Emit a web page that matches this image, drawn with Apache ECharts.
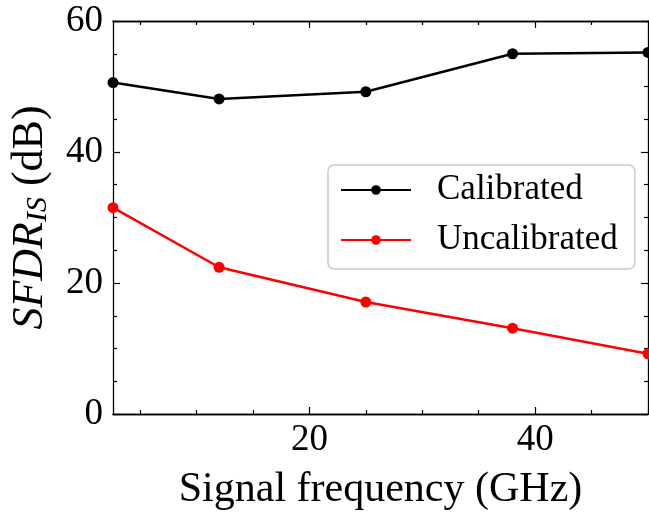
<!DOCTYPE html>
<html>
<head>
<meta charset="utf-8">
<script src="https://cdn.jsdelivr.net/npm/echarts@6/dist/echarts.min.js"></script>
<style>
  html, body { margin: 0; padding: 0; background: #fff; }
  #chartWrapper { width: 649px; height: 512px; }
</style>
</head>
<body>
<div id="chartWrapper"></div>
<script>
// signal frequency (GHz)
let freq = [2.6, 12, 25, 38, 50];
let calibrated = [50.6, 48.1, 49.2, 55.0, 55.2];
let uncalibrated = [31.5, 22.4, 17.1, 13.1, 9.2];
let xMajorTicks = [20, 40];
let xMinorTicks = [5, 10, 15, 25, 30, 35, 45, 50];

let myChart = echarts.init(document.getElementById('chartWrapper'));
let serif = 'Liberation Serif';

function pairs(ys) {
    return freq.map(function (x, i) { return [x, ys[i]]; });
}

// x axes: bottom major / bottom minor / top major / top minor
function xAxisItem(pos, ticks, len, showLabel) {
    return {
        type: 'value',
        position: pos,
        min: 2.6,
        max: 50,
        axisLine: { show: true, onZero: false, lineStyle: { color: '#000', width: 1.3 } },
        axisTick: { show: true, inside: true, length: len, customValues: ticks, lineStyle: { color: '#000', width: 1.2 } },
        axisLabel: { show: showLabel, customValues: ticks, color: '#000', fontFamily: serif, fontSize: 37, margin: 8 },
        splitLine: { show: false }
    };
}

function yAxisItem(pos, showLabel) {
    return {
        type: 'value',
        position: pos,
        min: 0,
        max: 60,
        interval: 20,
        axisLine: { show: true, lineStyle: { color: '#000', width: 1.3 } },
        axisTick: { show: true, inside: true, length: 7, lineStyle: { color: '#000', width: 1.2 } },
        minorTick: { show: true, splitNumber: 4, length: 4, lineStyle: { color: '#000', width: 1.2 } },
        axisLabel: { show: showLabel, color: '#000', fontFamily: serif, fontSize: 37, margin: 10 },
        splitLine: { show: false },
        minorSplitLine: { show: false }
    };
}

let xAxes = [
    xAxisItem('bottom', xMajorTicks, 7, true),
    xAxisItem('bottom', xMinorTicks, 4, false),
    xAxisItem('top', xMajorTicks, 7, false),
    xAxisItem('top', xMinorTicks, 4, false)
];
xAxes[0].name = 'Signal frequency (GHz)';
xAxes[0].nameLocation = 'middle';
xAxes[0].nameGap = 55;
xAxes[0].nameTextStyle = { color: '#000', fontFamily: serif, fontSize: 42 };

let yAxes = [yAxisItem('left', true), yAxisItem('right', false)];
yAxes[0].name = '{i|SFDR}{s|IS}{n| (dB)}';
yAxes[0].nameLocation = 'middle';
yAxes[0].nameGap = 60;
yAxes[0].nameRotate = 90;
yAxes[0].nameTextStyle = {
    color: '#000',
    rich: {
        i: { fontFamily: serif, fontStyle: 'italic', fontSize: 44, color: '#000' },
        s: { fontFamily: serif, fontStyle: 'italic', fontSize: 30, color: '#000', verticalAlign: 'bottom', padding: [16, 0, 0, 0] },
        n: { fontFamily: serif, fontSize: 44, color: '#000' }
    }
};

let option = {
    animation: false,
    backgroundColor: '#fff',
    grid: { left: 113, right: 1, top: 21, bottom: 98, outerBoundsMode: 'none' },
    legend: {
        left: 328,
        top: 165,
        orient: 'vertical',
        itemWidth: 70,
        itemHeight: 12,
        itemGap: 14,
        padding: [7, 17, 11, 12],
        borderColor: '#cccccc',
        borderWidth: 1.5,
        borderRadius: 6,
        backgroundColor: '#fff',
        textStyle: { color: '#000', fontFamily: serif, fontSize: 35, lineHeight: 36, padding: [0, 0, 0, 21] },
        data: ['Calibrated', 'Uncalibrated']
    },
    xAxis: xAxes,
    yAxis: yAxes,
    series: [
        {
            name: 'Calibrated',
            type: 'line',
            data: pairs(calibrated),
            symbol: 'circle',
            symbolSize: 11,
            itemStyle: { color: '#000' },
            lineStyle: { color: '#000', width: 2.5 }
        },
        {
            name: 'Uncalibrated',
            type: 'line',
            data: pairs(uncalibrated),
            symbol: 'circle',
            symbolSize: 11,
            itemStyle: { color: '#ff0000' },
            lineStyle: { color: '#ff0000', width: 2.5 }
        }
    ]
};

myChart.setOption(option);
</script>
</body>
</html>
